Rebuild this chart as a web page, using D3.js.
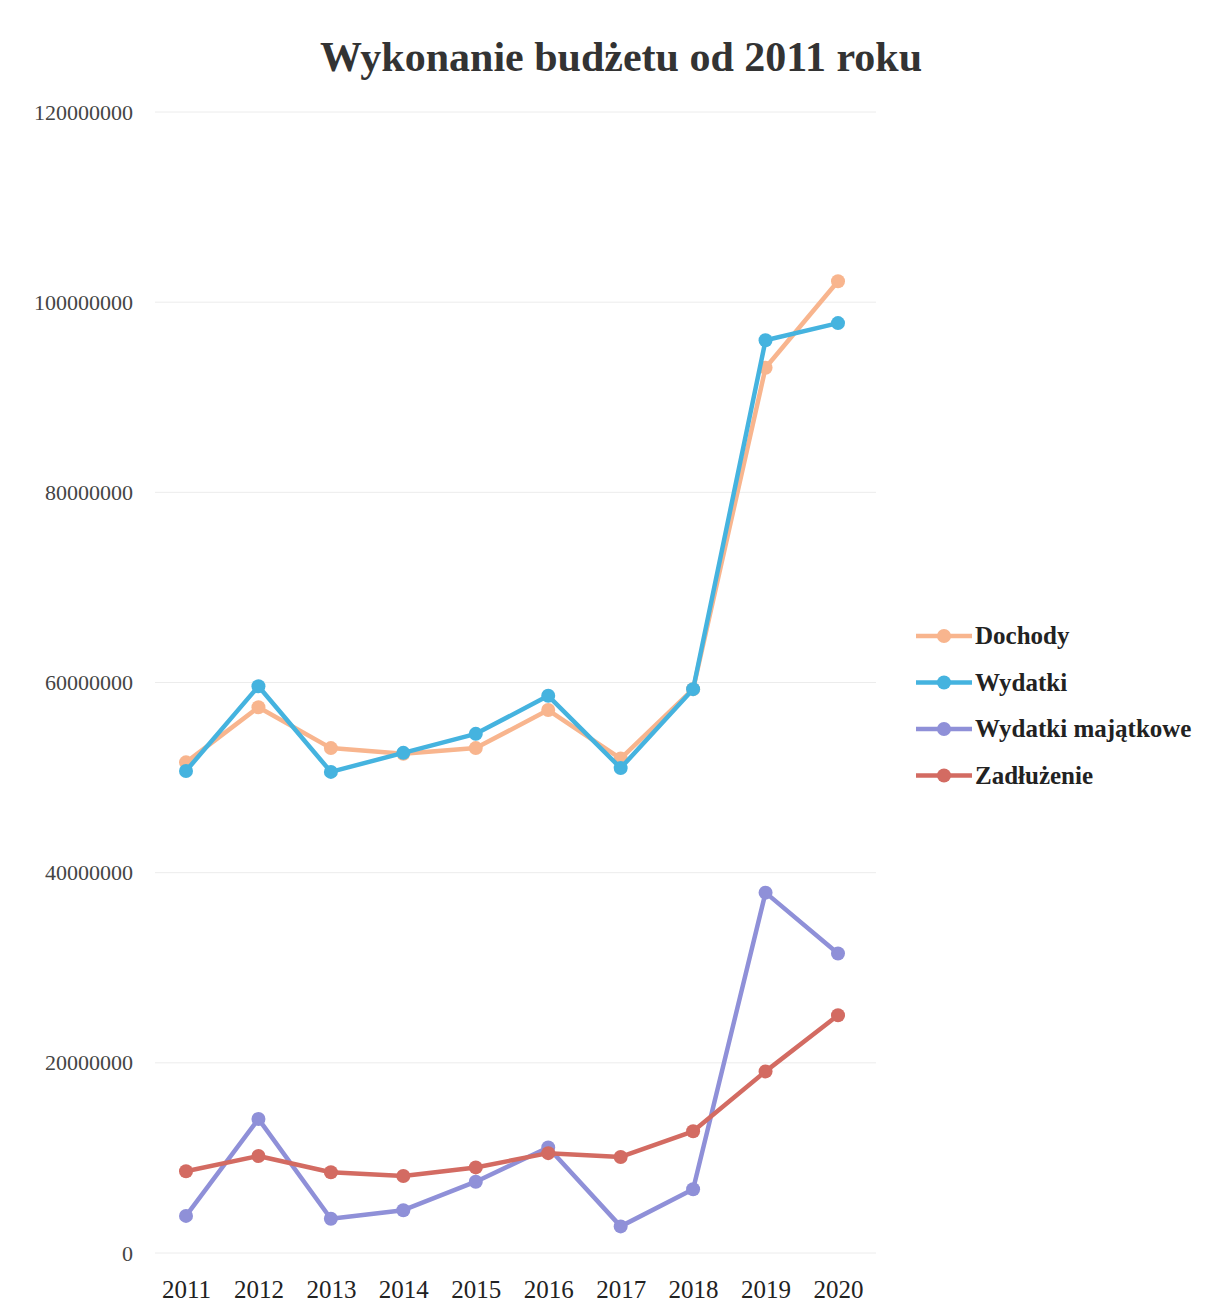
<!DOCTYPE html>
<html><head><meta charset="utf-8">
<script src="https://cdn.jsdelivr.net/npm/d3@7"></script>
<style>body{margin:0;background:#fff}svg{display:block}</style>
</head><body>
<script>
const years = ["2011","2012","2013","2014","2015","2016","2017","2018","2019","2020"];
const dochody = [51.6,57.4,53.1,52.5,53.1,57.1,52.0,59.3,93.1,102.2].map(v=>v*1e6);
const wydatki = [50.7,59.6,50.6,52.6,54.6,58.6,51.0,59.3,96.0,97.8].map(v=>v*1e6);
const majatkowe = [3.9,14.1,3.6,4.5,7.5,11.1,2.8,6.7,37.9,31.5].map(v=>v*1e6);
const zadluzenie = [8.6,10.2,8.5,8.1,9.0,10.5,10.1,12.8,19.1,25.0].map(v=>v*1e6);
const yTicks = [0,20000000,40000000,60000000,80000000,100000000,120000000];
const seriesNames = ["Dochody","Wydatki","Wydatki majątkowe","Zadłużenie"];
const seriesColors = ["#F8B58E","#45B3DF","#8F90D8","#D36B62"];
const seriesData = [dochody,wydatki,majatkowe,zadluzenie];

const W=1232,H=1315;
const svg=d3.select("body").append("svg").attr("width",W).attr("height",H);
const font="'Liberation Serif', 'DejaVu Serif', serif";
svg.append("text").attr("x",621).attr("y",71).attr("text-anchor","middle")
  .attr("font-family",font).attr("font-weight","bold").attr("font-size",42).attr("fill","#333")
  .text("Wykonanie budżetu od 2011 roku");

const x=d3.scalePoint().domain(years).range([186,838]);
const y=d3.scaleLinear().domain([0,120000000]).range([1253,112]);

const grid=svg.append("g");
grid.selectAll("line").data(yTicks).join("line")
  .attr("x1",155).attr("x2",876).attr("y1",d=>y(d)).attr("y2",d=>y(d))
  .attr("stroke","#ececec").attr("stroke-width",1);

const yAxis=svg.append("g").attr("transform","translate(133,0)")
  .call(d3.axisLeft(y).tickValues(yTicks).tickSize(0).tickPadding(0).tickFormat(d=>String(d)));
yAxis.select(".domain").remove();
yAxis.selectAll("text").attr("font-family",font).attr("font-size",22).attr("fill","#444");

const xAxis=svg.append("g").attr("transform","translate(0,1280)")
  .call(d3.axisBottom(x).tickSize(0).tickPadding(0));
xAxis.select(".domain").remove();
xAxis.selectAll("text").attr("font-family",font).attr("font-size",25).attr("fill","#222");

const line=d3.line().x((d,i)=>x(years[i])).y(d=>y(d));
seriesData.forEach((data,k)=>{
  const g=svg.append("g");
  g.append("path").datum(data).attr("d",line).attr("fill","none")
    .attr("stroke",seriesColors[k]).attr("stroke-width",4.5).attr("stroke-linejoin","round");
  g.selectAll("circle").data(data).join("circle")
    .attr("cx",(d,i)=>x(years[i])).attr("cy",d=>y(d)).attr("r",7).attr("fill",seriesColors[k]);
});

const lg=svg.append("g");
seriesNames.forEach((n,k)=>{
  const yy=636+k*46.5;
  lg.append("line").attr("x1",916).attr("x2",972).attr("y1",yy).attr("y2",yy)
    .attr("stroke",seriesColors[k]).attr("stroke-width",4.5);
  lg.append("circle").attr("cx",944).attr("cy",yy).attr("r",7).attr("fill",seriesColors[k]);
  lg.append("text").attr("x",975).attr("y",yy+8).attr("font-family",font).attr("font-weight","bold")
    .attr("font-size",25).attr("fill","#222").text(n);
});
</script>
</body></html>
